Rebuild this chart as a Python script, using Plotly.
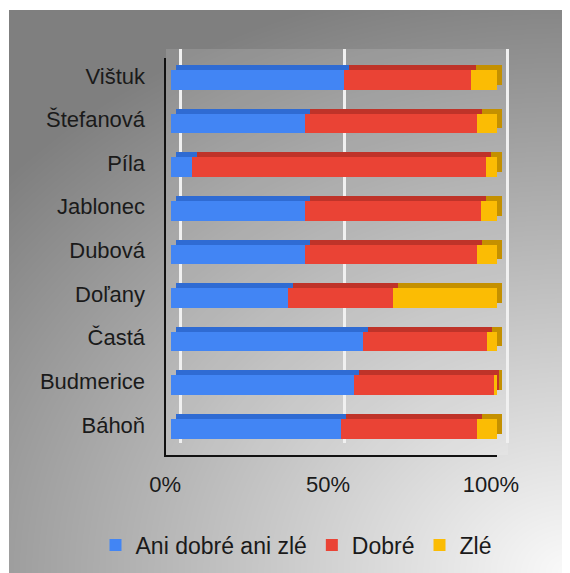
import zlib, struct, base64
import numpy as np
import plotly.graph_objects as go

# ---------------- data ----------------
villages = ["Báhoň", "Budmerice", "Častá", "Doľany", "Dubová",
            "Jablonec", "Píla", "Štefanová", "Vištuk"]
ani_dobre_ani_zle = [52, 56, 59, 36, 41, 41, 6.5, 41, 53]
dobre = [42, 43, 38, 32, 53, 54, 90, 53, 39]
zle = [6, 1, 3, 32, 6, 5, 3.5, 6, 8]
series_names = ["Ani dobré ani zlé", "Dobré", "Zlé"]
x_tick_vals = [0, 50, 100]
x_tick_text = ["0%", "50%", "100%"]

# ---------------- style ----------------
PAGE_OFF = 8            # default body margin of the html page
W, H = 570 - PAGE_OFF, 573 - PAGE_OFF
front_colors = ["#4285F4", "#EA4335", "#FBBC04"]
top_colors = ["#2F6BD3", "#BF3329", "#C49000"]
FONT = "Liberation Sans, Arial, sans-serif"
series = [ani_dobre_ani_zle, dobre, zle]


def fx(px):
    return (px - PAGE_OFF) / W


def fy(py):
    return 1 - (py - PAGE_OFF) / H


# background gradient as a PNG
def png_gray(arr):
    h, w = arr.shape
    raw = b"".join(b"\x00" + arr[i].tobytes() for i in range(h))

    def chunk(t, d):
        c = struct.pack(">I", len(d)) + t + d
        return c + struct.pack(">I", zlib.crc32(t + d) & 0xFFFFFFFF)

    return (b"\x89PNG\r\n\x1a\n"
            + chunk(b"IHDR", struct.pack(">IIBBBBB", w, h, 8, 0, 0, 0, 0))
            + chunk(b"IDAT", zlib.compress(raw, 9))
            + chunk(b"IEND", b""))


bx0, by0, bx1, by1 = 9, 10, 570, 573
bw, bh = bx1 - bx0, by1 - by0
X, Y = np.meshgrid(np.arange(bx0, bx1) + 0.5, np.arange(by0, by1) + 0.5)
dx = (bx1 - X) / bw
dy = (by1 - Y) / bh * 1.25
d = np.sqrt(dx ** 2 + dy ** 2)
g = np.clip(1 - d / 1.34, 0, 1)
val = (127 + 123 * g).astype(np.uint8)
bg_uri = "data:image/png;base64," + base64.b64encode(png_gray(val)).decode()

fig = go.Figure()

# wall subplot (x, y): only gridlines
fig.add_trace(go.Scatter(x=[], y=[], xaxis="x", yaxis="y", showlegend=False,
                         hoverinfo="skip"))

# back (top/side faces) bars on x2/y2, front bars on x3/y3
for name, vals, col in zip(series_names, series, top_colors):
    fig.add_trace(go.Bar(y=villages, x=vals, orientation="h", name=name,
                         marker=dict(color=col, line=dict(width=0)),
                         width=0.45, xaxis="x2", yaxis="y2",
                         showlegend=False, hoverinfo="skip"))
for name, vals, col in zip(series_names, series, front_colors):
    fig.add_trace(go.Bar(y=villages, x=vals, orientation="h", name=name,
                         marker=dict(color=col, line=dict(width=0)),
                         width=0.45, xaxis="x3", yaxis="y3"))

# pixel geometry (page pixels)
front_l, front_r, front_t, front_b = 165.5, 497, 58, 455
off = 5
x_rng = [-1.7, 100]
y_rng = [-0.6, 8.5]

fig.update_layout(
    width=W, height=H, template="none",
    margin=dict(l=0, r=0, t=0, b=0),
    paper_bgcolor="white", plot_bgcolor="rgba(0,0,0,0)",
    barmode="stack", bargap=0.5,
    font=dict(family=FONT, color="#1a1a1a"),
    images=[dict(source=bg_uri, xref="paper", yref="paper",
                 x=fx(bx0), y=fy(by0), sizex=bw / W, sizey=bh / H,
                 xanchor="left", yanchor="top", sizing="stretch",
                 layer="below")],
    shapes=[dict(type="rect", xref="paper", yref="paper",
                 x0=fx(166), x1=fx(508), y0=fy(455), y1=fy(49),
                 layer="below",
                 fillcolor="rgba(255,255,255,0.13)", line=dict(width=0))],
    # wall
    xaxis=dict(domain=[fx(177.7), fx(510.3)], range=[-1, 101], anchor="y",
               showgrid=True, gridcolor="#f0f0f0", gridwidth=2.5,
               tickvals=x_tick_vals, showticklabels=False, ticks="",
               zeroline=False, showline=False, fixedrange=True),
    yaxis=dict(domain=[fy(443), fy(49)], range=[0, 1], anchor="x",
               visible=False, fixedrange=True),
    # back bars
    xaxis2=dict(domain=[fx(front_l + off), fx(front_r + off)], range=x_rng,
                anchor="y2", visible=False, fixedrange=True),
    yaxis2=dict(domain=[fy(front_b - off), fy(front_t - off)], range=y_rng,
                anchor="x2", visible=False, type="category",
                categoryorder="array", categoryarray=villages,
                fixedrange=True),
    # front bars
    xaxis3=dict(domain=[fx(front_l), fx(front_r)], range=x_rng, anchor="y3",
                showgrid=False, zeroline=False, showline=True,
                linecolor="#111111", linewidth=2, ticks="",
                tickvals=x_tick_vals, ticktext=x_tick_text,
                tickfont=dict(size=22, family=FONT, color="#1a1a1a"),
                ticklabelstandoff=9, ticklabelshift=-6, fixedrange=True),
    yaxis3=dict(domain=[fy(front_b), fy(front_t)], range=y_rng, anchor="x3",
                type="category", categoryorder="array", categoryarray=villages,
                showgrid=False, zeroline=False, showline=True,
                linecolor="#111111", linewidth=2, ticks="",
                tickfont=dict(size=22, family=FONT, color="#1a1a1a"),
                ticklabelstandoff=14, ticklabelshift=-4, fixedrange=True),
    legend=dict(orientation="h", x=fx(296), xanchor="center",
                y=fy(545), yanchor="middle", traceorder="normal",
                bgcolor="rgba(0,0,0,0)",
                font=dict(size=23, family=FONT, color="#1a1a1a")),
)

fig.write_html("out.html")
